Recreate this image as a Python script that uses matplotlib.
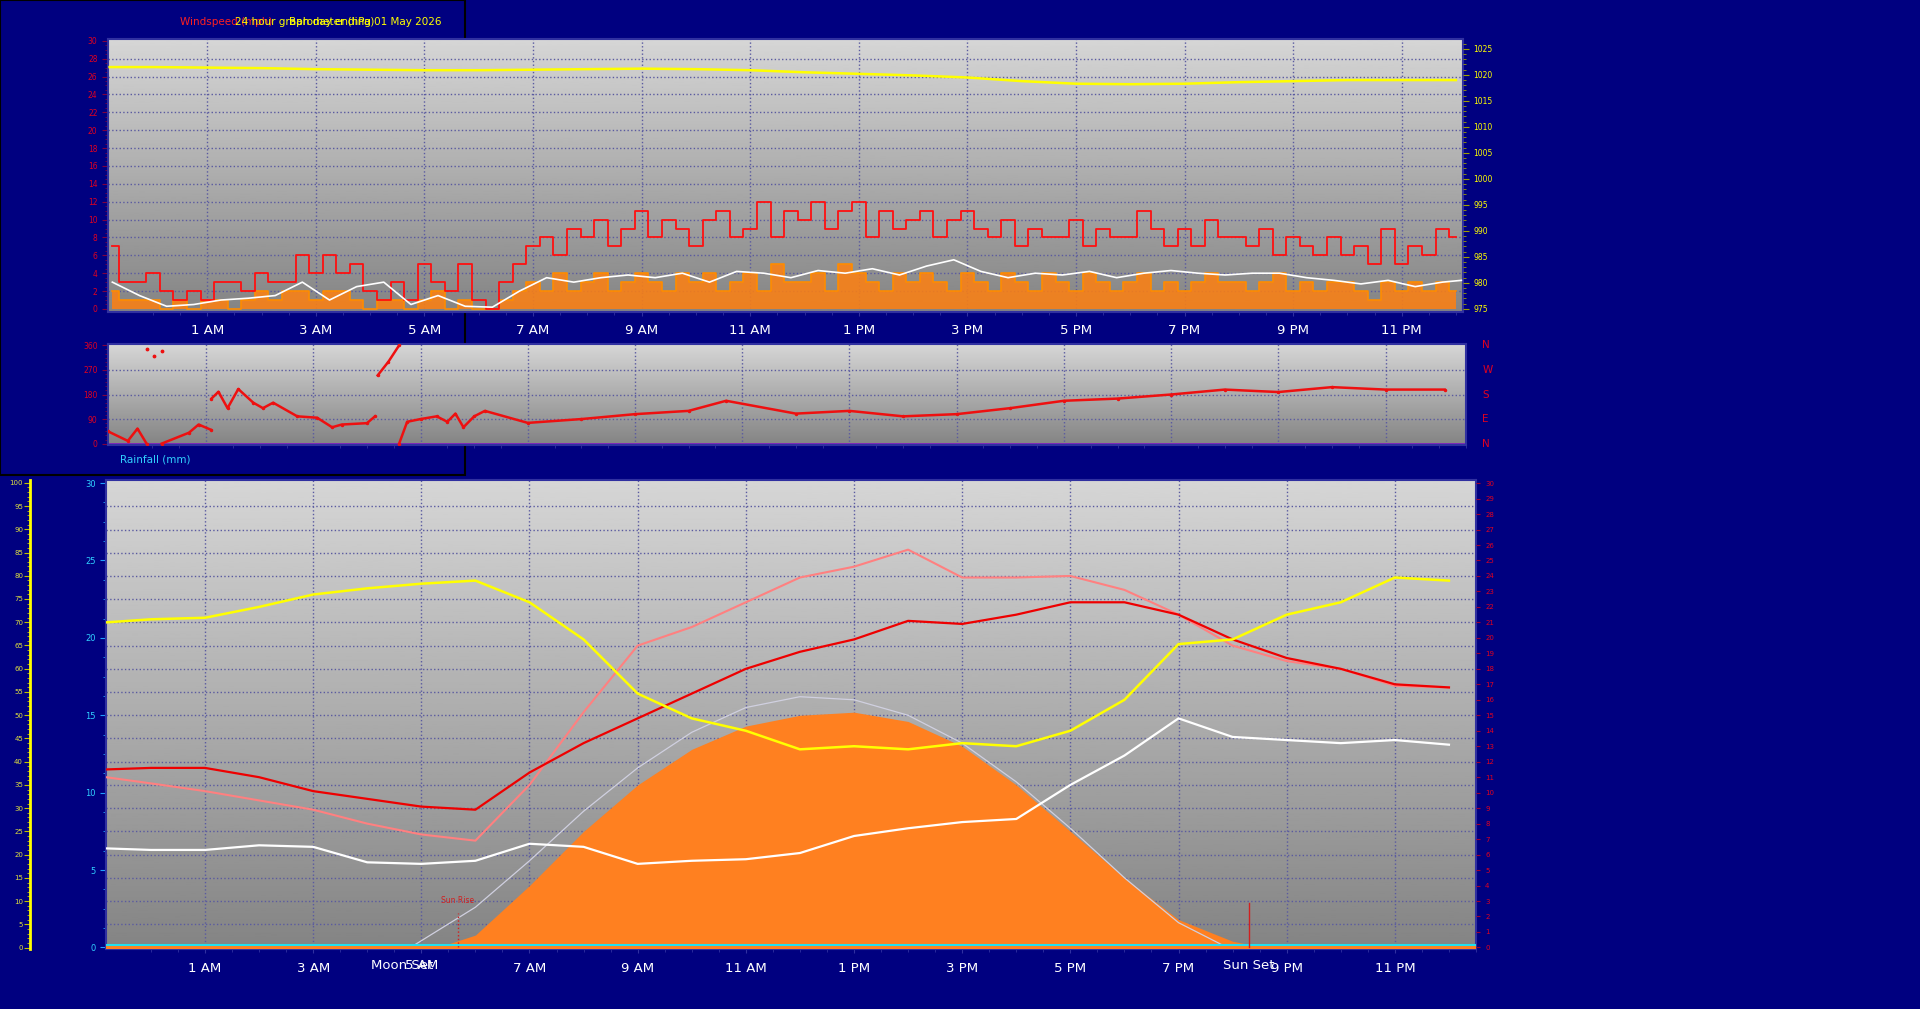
import matplotlib.pyplot as plt
import numpy as np
from matplotlib.patches import Rectangle

# ---- data ----
hour_ticks = [1, 3, 5, 7, 9, 11, 13, 15, 17, 19, 21, 23]
hour_labels = ['1 AM', '3 AM', '5 AM', '7 AM', '9 AM', '11 AM', '1 PM', '3 PM', '5 PM', '7 PM', '9 PM', '11 PM']
x_start, x_end = -0.83, 24.13

# wind, 15 minute steps from 23:15
wind_t = [-0.75 + 0.25 * i for i in range(100)]
gust = [7, 3, 3,
        4, 2, 1, 2,  1, 3, 3, 2,  4, 3, 3, 6,  4, 6, 4, 5,  2, 1, 3, 1,  5, 3, 2, 5,
        1, 0, 3, 5,  7, 8, 6, 9,  8, 10, 7, 9,  11, 8, 10, 9,  7, 10, 11, 8,  9, 12, 8, 11,
        10, 12, 9, 11,  12, 8, 11, 9,  10, 11, 8, 10,  11, 9, 8, 10,  7, 9, 8, 8,  10, 7, 9, 8,
        8, 11, 9, 7,  9, 7, 10, 8,  8, 7, 9, 6,  8, 7, 6, 8,  6, 7, 5, 9,  5, 7, 6, 9,
        8]
speed = [2, 1, 1,
         1, 0, 1, 0,  1, 1, 0, 1,  2, 1, 2, 2,  1, 2, 2, 1,  0, 1, 1, 0,  1, 2, 0, 1,
         0, 0, 1, 2,  3, 2, 4, 2,  3, 4, 2, 3,  4, 3, 2, 4,  3, 4, 2, 3,  4, 2, 5, 3,
         3, 4, 2, 5,  4, 3, 2, 4,  3, 4, 3, 2,  4, 3, 2, 4,  3, 2, 4, 3,  2, 4, 3, 2,
         3, 4, 2, 3,  2, 3, 4, 3,  3, 2, 3, 4,  2, 3, 2, 3,  3, 2, 1, 3,  2, 3, 2, 3,
         2]
avg_t = [-0.75 + 0.5 * i for i in range(50)] + [24.1]
avg = [3, 1.5, 0.3, 0.5, 1.0, 1.2, 1.5, 3.0, 1.0, 2.5, 3.0, 0.5, 1.5, 0.3, 0.2, 2.0,
       3.5, 3.0, 3.5, 3.8, 3.5, 4.0, 3.0, 4.2, 4.0, 3.5, 4.3, 4.0, 4.5, 3.8, 4.8, 5.5,
       4.2, 3.5, 4.0, 3.8, 4.2, 3.5, 4.0, 4.3, 4.0, 3.8, 4.0, 4.0, 3.5, 3.2, 2.8, 3.2,
       2.5, 3.0, 3.2]

baro_t = [-0.8] + list(range(25))
baro = [1021.5, 1021.5, 1021.4, 1021.3, 1021.1, 1021.0, 1020.9, 1020.9, 1021.0, 1021.1,
        1021.2, 1021.1, 1020.9, 1020.5, 1020.2, 1019.9, 1019.5, 1018.8, 1018.3, 1018.2,
        1018.3, 1018.6, 1018.8, 1019.0, 1019.0, 1019.0]

# wind direction (nan = break at wrap)
nan = np.nan
dir_t = [-0.83, -0.46, -0.28, -0.11, nan, 0.17, 0.68, 0.86, 1.1, nan,
         1.1, 1.23, 1.4, 1.6, 1.88, 2.06, 2.25, 2.7, 3.07, 3.35, 3.53, 4.0, 4.15, nan,
         4.2, 4.4, 4.6, nan,
         4.6, 4.75, 5.0, 5.3, 5.5, 5.65, 5.8, 6.0, 6.2, 7, 8, 9, 10, 10.7, 12, 13, 14, 15,
         16, 17, 18, 19, 20, 21, 22, 23, 24.1]
dir_v = [45, 10, 55, 0, nan, 0, 40, 70, 50, nan,
         165, 190, 130, 200, 150, 130, 150, 100, 95, 60, 70, 75, 100, nan,
         250, 300, 360, nan,
         0, 80, 90, 100, 80, 110, 60, 100, 120, 76, 90, 108, 120, 157, 110, 120, 100, 108,
         130, 157, 165, 180, 198, 189, 207, 198, 198]
dir_v_t = [-0.11, 0.03, 0.17]
dir_v_v = [345, 320, 340]

# temperature panel, hourly
temp_t = [-0.83] + list(range(25))
temp_out = [11.5, 11.6, 11.6, 11.0, 10.1, 9.6, 9.1, 8.9, 11.3, 13.2, 14.8, 16.4, 18.0, 19.1,
            19.9, 21.1, 20.9, 21.5, 22.3, 22.3, 21.5, 19.9, 18.7, 18.0, 17.0, 16.8]
temp_app = [11.0, 10.6, 10.1, 9.5, 8.9, 8.0, 7.3, 6.9, 10.5, 15.2, 19.5, 20.7, 22.3, 23.9,
            24.6, 25.7, 23.9, 23.9, 24.0, 23.1, 21.5, 19.5, 18.5, 18.0, 16.9, 16.8]
dew = [6.4, 6.3, 6.3, 6.6, 6.5, 5.5, 5.4, 5.6, 6.7, 6.5, 5.4, 5.6, 5.7, 6.1,
       7.2, 7.7, 8.1, 8.3, 10.5, 12.4, 14.8, 13.6, 13.4, 13.2, 13.4, 13.1]
humid = [21.0, 21.2, 21.3, 22.0, 22.8, 23.2, 23.5, 23.7, 22.3, 19.9, 16.4, 14.8, 14.0, 12.8,
         13.0, 12.8, 13.2, 13.0, 14.0, 16.0, 19.6, 19.9, 21.5, 22.3, 23.9, 23.7]
solar_t = [5.3, 6, 7, 8, 9, 10, 11, 12, 13, 14, 15, 16, 17, 18, 19, 20, 20.6]
solar = [0, 0.8, 4.0, 7.5, 10.5, 12.8, 14.3, 15.0, 15.2, 14.6, 13.0, 10.5, 7.5, 4.5, 1.8, 0.4, 0]
sun_t = [4.8, 6, 7, 8, 9, 10, 11, 12, 13, 14, 15, 16, 17, 18, 19, 19.9]
sun_max = [0, 2.6, 5.6, 8.8, 11.6, 13.9, 15.5, 16.2, 16.0, 15.0, 13.2, 10.7, 7.7, 4.5, 1.6, 0]
sun_rise, sun_set, moon_set = 5.67, 20.3, 4.64

W, H = 1920, 1009
navy = '#000080'
grid_c = '#5a5aa0'

fig = plt.figure(figsize=(W / 100, H / 100), dpi=100, facecolor=navy)


def px_axes(x0, y0, x1, y1):
    return fig.add_axes([x0 / W, 1 - y1 / H, (x1 - x0) / W, (y1 - y0) / H])


def gradient(ax):
    g = np.linspace(1, 0, 256).reshape(-1, 1)
    ax.imshow(g, cmap='gray', vmin=-1.6, vmax=1.5, extent=(0, 1, 0, 1), aspect='auto',
              transform=ax.transAxes, zorder=0, origin='upper')
    ax.set_facecolor('#a0a0a0')
    for s in ax.spines.values():
        s.set_color('#3030a0')
        s.set_linewidth(1.5)


def time_axis(ax, labels=True):
    ax.set_xlim(x_start, x_end)
    ax.set_xticks(hour_ticks)
    ax.set_xticks(np.arange(0, 25, 0.5), minor=True)
    if labels:
        ax.set_xticklabels(hour_labels, color='white', fontsize=9.5)
    else:
        ax.set_xticklabels([])
    ax.tick_params(axis='x', colors='#3030a0', length=3, labelcolor='white', pad=6)
    ax.tick_params(axis='x', which='minor', length=2, colors='#3030a0')
    for h in hour_ticks:
        ax.axvline(h, color=grid_c, lw=1, ls=':', zorder=1)


fig.patches.append(Rectangle((0, 1 - 475 / H), 465 / W, 475 / H, transform=fig.transFigure,
                             fill=False, edgecolor='black', lw=1.5, zorder=-5))

# ---- top: wind + barometer ----
ax1 = px_axes(108, 39, 1463, 312)
gradient(ax1)
time_axis(ax1)
ax1.set_ylim(-0.34, 30.2)
ax1.set_yticks(range(0, 31, 2))
ax1.set_yticks(np.arange(0, 30.5, 0.5), minor=True)
ax1.tick_params(axis='y', colors='#800040', labelcolor='#e00020', labelsize=5.5, length=4)
ax1.tick_params(axis='y', which='minor', length=2, colors='#800040')
for v in range(2, 30, 2):
    ax1.axhline(v, color=grid_c, lw=1, ls=':', zorder=1)
ax1.fill_between(wind_t, speed, step='mid', color='#ff8010', alpha=0.85, zorder=2, lw=0)
ax1.step(wind_t, speed, where='mid', color='#ff8c00', lw=1.2, zorder=2)
ax1.step(wind_t, gust, where='mid', color='#ff1010', lw=1.3, zorder=3)
ax1.plot(avg_t, avg, color='white', lw=1.2, zorder=4)
ax1b = ax1.twinx()
ax1b.set_xlim(x_start, x_end)
ax1b.set_ylim(974.4, 1026.9)
ax1b.set_yticks(range(975, 1026, 5))
ax1b.set_yticks(range(975, 1027), minor=True)
ax1b.tick_params(axis='y', colors='#a0a000', labelcolor='yellow', labelsize=5.5, length=4)
ax1b.tick_params(axis='y', which='minor', length=2, colors='#a0a000')
ax1b.plot(baro_t, baro, color='yellow', lw=1.8, zorder=5)
for s in ax1b.spines.values():
    s.set_visible(False)

fig.text(180 / W, 1 - 22 / H, 'Windspeed (mph)', color='#ff2020', fontsize=7.5, va='center')
fig.text(235 / W, 1 - 22 / H, '24 hour graph day ending 01 May 2026', color='yellow', fontsize=7.5, va='center')
fig.text(289 / W, 1 - 22 / H, 'Barometer (hPa)', color='yellow', fontsize=7.5, va='center')

# ---- middle: wind direction ----
ax2 = px_axes(108, 344, 1466, 445)
gradient(ax2)
time_axis(ax2, labels=False)
ax2.tick_params(axis='x', length=0)
ax2.set_ylim(-5, 365)
ax2.set_yticks([0, 90, 180, 270, 360])
ax2.set_yticks(range(0, 361, 15), minor=True)
ax2.tick_params(axis='y', colors='#800040', labelcolor='#e00020', labelsize=5.5, length=4)
ax2.tick_params(axis='y', which='minor', length=2, colors='#800040')
for v in [90, 180, 270]:
    ax2.axhline(v, color=grid_c, lw=1, ls=':', zorder=1)
ax2.axhline(0, color='#8020c0', lw=2, zorder=2)
ax2.plot(dir_t, dir_v, color='#ee1010', lw=1.8, marker='.', ms=3, zorder=3)
ax2.plot(dir_v_t, dir_v_v, color='#ee1010', lw=0, marker='.', ms=3.5, zorder=3)
for lab, v in zip(['N', 'W', 'S', 'E', 'N'], [360, 270, 180, 90, 0]):
    ax2.text(1.012, (v + 5) / 370, lab, transform=ax2.transAxes, color='#e00020',
             fontsize=7.5, va='center', ha='left')

fig.text(120 / W, 1 - 460 / H, 'Rainfall (mm)', color='#30d0ff', fontsize=7.5, va='center')

# ---- bottom: temperatures / solar ----
ax3 = px_axes(106, 480, 1476, 949)
gradient(ax3)
time_axis(ax3)
ax3.set_xticklabels([('' if l == '5 AM' else l) for l in hour_labels])
ax3.set_ylim(-0.1, 30.2)
ax3.set_yticks(range(0, 31, 5))
ax3.set_yticks(np.arange(0, 30.5, 1.25), minor=True)
ax3.tick_params(axis='y', colors='#20a0ff', labelcolor='#30d0ff', labelsize=6, length=4)
ax3.tick_params(axis='y', which='minor', length=2, colors='#20a0ff')
for v in np.arange(1.5, 30, 1.5):
    ax3.axhline(v, color=grid_c, lw=1, ls=':', zorder=1)
ax3.fill_between(solar_t, solar, color='#ff8020', zorder=2, lw=0)
ax3.plot(sun_t, sun_max, color='#d0d0e0', lw=0.9, zorder=3)
ax3.plot(temp_t, dew, color='white', lw=1.6, zorder=4)
ax3.plot(temp_t, temp_app, color='#ff8080', lw=1.5, zorder=4)
ax3.plot(temp_t, temp_out, color='#ee0000', lw=1.6, zorder=5)
ax3.plot(temp_t, humid, color='yellow', lw=1.8, zorder=5)
ax3.axhline(0.05, color='#ff8020', lw=3, zorder=6)
ax3.axhline(0.15, color='#20e0f0', lw=1.5, zorder=6)
ax3.plot([sun_rise, sun_rise], [0, 2.2], color='#d02020', lw=1, ls=':', zorder=6)
ax3.plot([sun_set, sun_set], [0, 2.9], color='#d02020', lw=1, zorder=6)
ax3.text(sun_rise, 2.9, 'Sun Rise', color='#d02020', fontsize=5.5, ha='center', zorder=7)
lab_y = -0.021
ax3.text(5, lab_y, '5 AM', transform=ax3.get_xaxis_transform(), color='white', fontsize=9.5,
         ha='center', va='top')
ax3.text(moon_set, lab_y, 'Moon Set', transform=ax3.get_xaxis_transform(), color='white',
         fontsize=9.5, ha='center', va='top')
ax3.text(sun_set, lab_y, 'Sun Set', transform=ax3.get_xaxis_transform(), color='white',
         fontsize=9.5, ha='center', va='top')
ax3b = ax3.twinx()
ax3b.set_ylim(-0.1, 30.2)
ax3b.set_yticks(range(0, 31))
ax3b.tick_params(axis='y', colors='#a00030', labelcolor='#e00020', labelsize=5, length=3)
for s in ax3b.spines.values():
    s.set_visible(False)

# far-left humidity scale
ax4 = px_axes(30, 480, 31, 949)
ax4.set_facecolor('none')
ax4.set_ylim(-0.3, 100.6)
ax4.set_xticks([])
ax4.set_yticks(range(0, 101, 5))
ax4.set_yticks(range(0, 101, 1), minor=True)
ax4.tick_params(axis='y', colors='#c0c000', labelcolor='#e0e040', labelsize=5, length=4, pad=1)
ax4.tick_params(axis='y', which='minor', length=2, colors='#c0c000')
for k, s in ax4.spines.items():
    s.set_visible(k == 'left')
ax4.spines['left'].set_color('yellow')
ax4.spines['left'].set_linewidth(2)

fig.savefig('out.png', dpi=100, facecolor=navy)
